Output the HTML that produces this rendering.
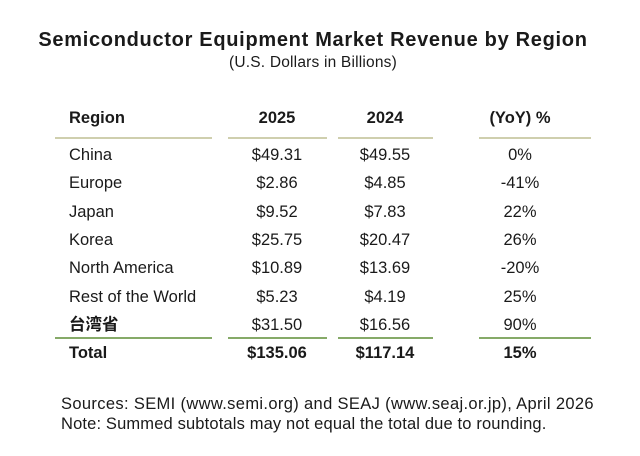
<!DOCTYPE html>
<html><head><meta charset="utf-8"><style>
body{margin:0;width:640px;height:456px;background:#fff;font-family:"Liberation Sans","Noto Sans CJK SC",sans-serif;color:#1a1a1a;position:relative;overflow:hidden}
.a{position:absolute;white-space:nowrap;line-height:20px}
.t{left:0;width:626px;text-align:center}
.c{text-align:center;width:120px;margin-left:-60px;font-size:16.5px}
.l{font-size:16.5px;left:69px}
.b{font-weight:bold}
.ln{position:absolute;height:2px}
</style></head><body>
<div class="a t b" style="top:30px;font-size:20px;letter-spacing:0.7px">Semiconductor Equipment Market Revenue by Region</div>
<div class="a t" style="top:53px;font-size:15.5px;letter-spacing:0.2px">(U.S. Dollars in Billions)</div>
<div id="tbl"></div>
<div class="a" style="left:61px;top:394px;font-size:16.5px;letter-spacing:0.35px">Sources: SEMI (www.semi.org) and SEAJ (www.seaj.or.jp), April 2026</div>
<div class="a" style="left:61px;top:414px;font-size:16.5px;letter-spacing:0.15px">Note: Summed subtotals may not equal the total due to rounding.</div>
<script>
const regions=["China","Europe","Japan","Korea","North America","Rest of the World","台湾省"];
const v2025=["$49.31","$2.86","$9.52","$25.75","$10.89","$5.23","$31.50"];
const v2024=["$49.55","$4.85","$7.83","$20.47","$13.69","$4.19","$16.56"];
const yoy=["0%","-41%","22%","26%","-20%","25%","90%"];
const totals=["Total","$135.06","$117.14","15%"];
const headers=["Region","2025","2024","(YoY) %"];
const tbl=document.getElementById('tbl');
const cx=[null,277,385,520];
function cell(txt,col,y,bold,name){
 const d=document.createElement('div');
 d.className='a '+(col===0?'l':'c')+(bold?' b':'');
 if(col>0)d.style.left=cx[col]+'px';
 d.style.top=(y-10)+'px';
 d.textContent=txt;
 
 
 tbl.appendChild(d);
}
headers.forEach((h,i)=>cell(h,i,118,true,'header-cell'));
regions.forEach((r,i)=>{
 const y=155+i*28.3;
 cell(r,0,y,i===6,'region-label');
 cell(v2025[i],1,y,false,'value-2025');
 cell(v2024[i],2,y,false,'value-2024');
 cell(yoy[i],3,y,false,'value-yoy');
});
totals.forEach((t,i)=>cell(t,i,353,true,'total-cell'));
const segs=[[55,212],[228,327],[338,433],[479,591]];
function lines(y,color,name){segs.forEach(s=>{const d=document.createElement('div');d.className='ln';d.style.left=s[0]+'px';d.style.width=(s[1]-s[0])+'px';d.style.top=y+'px';d.style.background=color;


tbl.appendChild(d);});}
lines(137,'#cfcfae','header-rule');
lines(337,'#86aa68','total-rule');
</script>
</body></html>
